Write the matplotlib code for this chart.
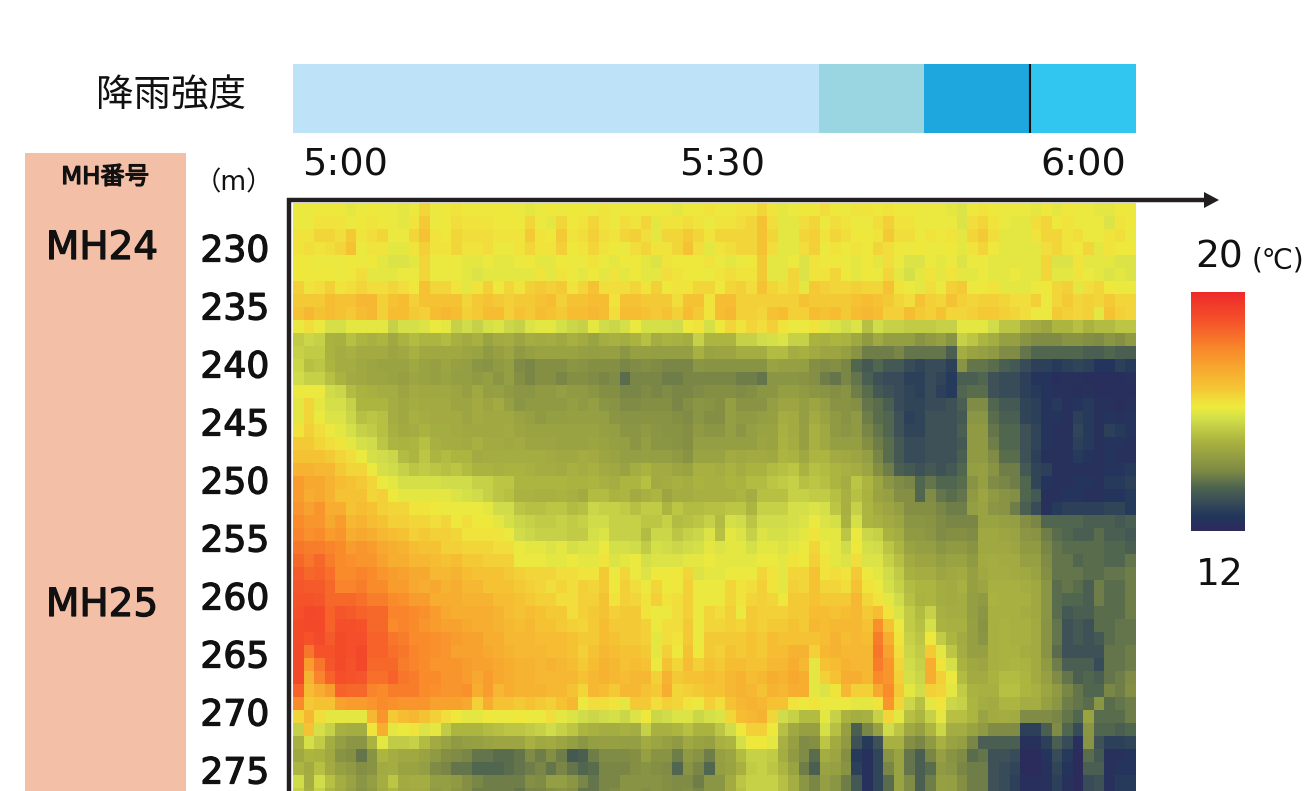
import numpy as np
import matplotlib
matplotlib.use("Agg")
import matplotlib.pyplot as plt
import matplotlib.patheffects as pe
from matplotlib.colors import LinearSegmentedColormap
from matplotlib.patches import Rectangle, Polygon

plt.rcParams['font.family'] = ['DejaVu Sans', 'Noto Sans CJK JP']

# temperature, tenths of a degree, 46 depth rows x 80 time columns
temp = [
[161,161,162,162,162,160,161,162,161,161,160,161,165,161,162,163,162,162,162,162,162,161,160,161,162,161,162,162,161,163,161,162,162,162,162,161,160,162,162,163,162,161,163,163,165,163,160,161,162,162,164,162,161,163,163,162,163,162,162,161,161,161,160,159,162,163,162,161,161,161,160,162,160,162,161,161,160,160,162,161],
[161,161,163,163,163,161,162,163,162,161,160,163,167,161,162,164,163,163,163,162,162,162,165,161,160,165,162,163,165,163,161,164,163,165,160,163,163,164,163,161,163,163,164,165,168,164,160,160,164,165,161,164,163,161,161,164,166,163,163,161,161,161,161,159,164,165,163,161,160,160,164,165,162,163,161,161,161,159,163,162],
[163,163,165,165,164,167,163,164,165,161,161,165,168,163,162,165,164,164,164,163,163,163,167,163,162,167,163,164,166,164,163,165,166,164,160,165,165,167,165,163,165,165,165,165,168,165,160,160,165,166,163,165,164,162,162,163,167,164,164,161,163,162,163,160,165,167,164,160,160,160,163,165,165,163,164,161,161,163,164,161],
[163,164,163,164,165,168,161,163,163,160,160,163,166,163,163,165,163,163,164,161,161,163,165,163,163,166,162,163,165,163,162,161,164,165,163,163,165,168,164,160,163,164,165,165,168,164,160,160,164,166,161,163,162,163,162,165,164,162,161,162,161,161,162,160,163,165,162,160,160,160,160,164,165,163,162,165,160,163,162,162],
[162,162,161,161,161,162,161,162,160,159,159,160,165,161,161,161,160,160,161,160,160,161,162,160,160,162,161,161,163,161,160,162,162,160,159,163,162,162,162,163,161,160,161,162,167,160,160,161,159,163,162,162,161,160,162,160,164,161,159,159,161,160,161,159,161,161,160,160,160,160,160,165,159,159,163,160,160,160,159,159],
[162,162,162,162,161,162,164,160,160,160,161,161,165,161,161,161,160,159,160,160,160,160,160,163,160,163,161,160,162,160,163,160,162,160,160,164,163,162,162,161,163,164,163,163,167,160,160,165,159,163,163,165,162,160,162,161,165,160,158,160,163,160,163,160,160,161,160,160,161,160,160,165,160,160,163,161,160,159,160,159],
[166,163,164,166,163,164,165,164,164,165,164,162,168,165,165,163,160,163,166,162,165,163,166,167,166,167,163,165,168,164,164,164,165,163,166,162,163,163,165,165,162,165,166,164,168,165,164,165,160,167,166,165,165,166,165,165,168,163,161,160,164,161,166,167,161,162,163,160,160,160,161,162,165,166,160,164,165,162,161,161],
[167,167,167,169,168,168,170,170,166,168,169,166,168,168,168,168,165,167,168,167,166,167,167,168,169,166,168,168,169,169,163,168,168,167,167,167,164,168,168,163,169,169,166,166,166,166,166,166,168,167,167,167,167,168,169,168,167,165,164,168,166,165,168,166,165,166,166,165,164,164,166,161,165,167,165,166,165,167,165,165],
[168,170,168,169,168,167,169,170,166,169,169,167,166,169,170,169,166,167,169,169,166,168,167,169,168,167,169,169,170,169,164,169,169,168,167,168,166,169,167,163,169,170,166,166,165,168,169,166,166,169,168,169,167,169,170,169,166,166,169,167,166,168,165,165,166,167,167,166,165,164,161,161,167,166,165,166,160,168,166,165],
[161,164,161,158,158,160,160,160,160,155,158,158,159,161,160,155,157,155,158,159,156,155,159,160,160,158,156,155,160,157,156,158,161,158,158,158,157,162,163,158,162,165,163,165,164,166,163,161,161,163,160,159,157,159,152,157,155,155,154,154,154,155,155,160,160,160,157,153,153,148,146,144,150,150,152,149,151,151,153,153],
[154,156,155,149,148,152,150,148,150,145,149,151,150,150,151,148,146,148,143,146,147,144,147,146,147,145,148,146,143,147,148,147,149,152,147,149,148,147,155,150,150,150,155,155,157,158,159,155,155,149,148,150,149,145,140,145,141,141,141,138,140,142,138,155,153,150,147,142,142,138,136,136,136,138,138,137,136,139,137,140],
[155,154,154,149,147,148,146,146,146,144,145,148,145,145,145,145,144,143,140,142,144,140,142,143,143,143,143,142,141,142,142,139,142,142,141,141,141,141,148,143,144,144,147,147,147,151,151,147,148,146,144,144,142,138,134,134,134,135,133,133,133,133,130,147,143,142,140,136,136,133,131,131,131,131,131,130,130,131,130,130],
[156,152,153,150,147,147,145,144,143,143,143,145,143,142,144,142,141,139,138,140,141,136,135,137,137,137,139,138,137,137,137,135,136,137,136,135,135,135,139,138,138,138,138,138,138,143,142,142,141,137,136,137,135,131,129,131,129,129,127,126,127,127,125,138,133,133,132,130,129,127,125,125,124,125,126,125,123,123,125,124],
[157,155,155,152,149,146,145,144,144,143,142,144,143,142,143,141,141,140,141,139,141,137,135,137,137,135,137,137,136,135,136,132,135,135,135,134,134,135,135,135,135,135,134,134,133,139,139,139,138,137,134,133,135,133,130,128,127,127,125,125,127,126,124,130,130,131,128,127,127,125,123,123,121,122,122,121,121,121,121,122,120],
[161,161,161,157,156,151,149,148,147,147,144,146,145,145,145,144,142,145,141,142,140,139,139,140,140,141,140,140,139,137,137,135,135,136,135,136,135,135,136,137,137,137,136,137,139,139,141,141,140,139,138,137,138,134,132,129,128,127,126,125,127,125,124,131,132,132,128,127,127,125,124,123,122,122,121,122,121,121,121,121,121],
[160,165,160,158,158,155,150,150,150,147,145,147,146,146,146,144,144,146,144,146,142,139,140,140,140,140,141,140,141,139,138,136,136,137,137,137,135,137,139,138,137,141,138,138,138,141,144,144,141,144,141,138,138,137,133,132,130,127,126,126,127,127,128,130,136,136,131,129,129,126,125,123,124,122,123,124,122,122,121,122,122],
[160,165,161,159,159,156,152,153,152,147,145,148,147,146,146,146,144,146,145,145,145,143,142,140,141,141,142,142,142,141,139,138,138,138,138,138,137,136,139,137,137,141,140,140,141,142,147,146,141,146,143,140,138,140,134,132,131,128,125,126,128,128,128,129,139,139,132,130,130,126,125,123,123,122,125,124,122,123,122,123,123],
[163,166,164,161,160,158,155,154,152,148,146,147,149,147,147,146,145,145,145,145,146,144,143,143,143,143,143,143,143,142,141,139,139,140,139,138,138,137,140,139,139,141,139,141,143,143,148,146,142,148,145,140,139,140,135,133,131,128,126,126,128,128,128,130,140,140,133,131,131,128,126,123,122,122,126,124,122,125,124,123,123],
[167,167,165,164,163,160,158,157,153,150,149,150,152,148,147,147,146,148,146,146,145,146,144,144,144,143,143,143,144,143,142,141,139,141,139,139,138,137,141,141,141,141,141,141,144,143,149,147,142,148,145,141,141,141,137,134,132,129,127,127,128,128,128,129,140,140,134,131,131,128,126,123,122,122,125,124,122,123,123,122,122],
[168,168,168,167,165,164,161,158,157,156,151,150,153,150,151,150,150,146,147,147,147,147,147,147,146,145,145,147,146,144,143,141,141,142,141,141,140,138,143,143,143,146,145,146,146,145,150,149,145,150,150,146,145,144,141,135,132,129,127,127,128,128,128,130,140,140,136,132,132,128,125,122,122,122,124,123,122,123,122,122,122],
[171,171,170,170,167,165,165,161,158,157,155,153,154,153,152,153,151,149,149,148,149,149,148,147,147,146,148,147,148,146,145,143,147,149,146,146,144,143,148,148,147,149,147,149,149,151,152,153,149,152,151,150,148,147,144,137,134,130,129,128,129,128,129,131,141,142,138,134,134,129,126,125,122,122,122,122,122,123,123,124,124],
[175,173,173,171,169,168,167,165,161,160,158,158,158,158,157,157,157,155,155,153,153,150,150,150,150,150,149,149,150,148,147,150,150,152,146,147,148,147,149,148,148,150,149,151,151,153,154,155,152,153,152,150,147,153,150,144,139,136,135,131,133,131,131,132,138,142,136,135,134,131,126,123,122,122,123,123,122,124,124,125,125],
[175,172,173,171,168,168,168,165,166,162,160,160,160,160,160,159,158,157,155,153,152,149,149,148,148,149,148,146,151,151,149,150,146,148,150,144,147,147,148,148,148,148,150,147,152,152,152,155,155,154,154,152,148,152,149,143,142,137,137,131,136,133,132,133,140,144,140,138,137,131,129,122,122,123,123,122,122,123,123,124,124],
[176,174,176,172,172,168,169,168,166,165,165,163,163,162,161,161,161,161,160,157,157,153,152,152,153,153,151,152,156,155,155,154,152,154,154,150,153,151,151,152,152,153,153,150,155,155,155,158,158,159,158,153,148,155,150,146,144,141,137,137,137,135,134,134,141,143,139,138,134,130,127,122,124,125,125,125,125,126,126,124,126],
[178,176,176,173,175,170,171,169,168,166,166,165,165,164,165,162,164,162,162,160,158,156,155,154,154,155,154,155,157,157,155,155,155,153,153,155,151,152,153,155,151,158,157,153,157,157,157,158,159,161,159,158,149,158,150,148,146,144,139,139,138,136,135,135,135,143,143,142,141,137,135,131,131,131,131,130,130,130,129,130,130],
[179,177,178,175,176,172,173,172,170,169,168,166,167,166,166,165,163,163,163,163,161,157,156,155,155,155,154,154,158,159,155,155,155,151,156,156,153,155,156,159,152,160,159,155,159,158,158,159,160,163,160,160,153,161,156,155,149,147,140,140,139,136,137,137,136,145,145,144,143,139,138,134,132,131,130,130,132,130,130,129,130],
[181,180,180,179,178,175,176,175,173,172,171,169,168,168,166,166,165,165,165,164,164,161,160,160,159,160,158,159,159,161,158,158,157,154,158,157,156,157,158,160,159,160,160,158,160,160,159,160,161,165,161,160,157,162,158,157,153,150,143,141,141,139,140,140,138,145,145,145,144,140,140,135,133,132,132,132,132,131,131,130,130],
[183,181,183,180,178,177,176,176,174,172,172,170,170,169,168,169,167,167,166,166,166,161,161,161,160,160,161,160,160,163,159,160,161,158,159,159,159,160,160,161,160,160,160,160,161,161,160,163,162,166,163,160,159,164,159,159,155,152,146,144,144,141,143,143,140,146,147,146,146,142,142,136,133,133,131,132,132,131,131,133,133],
[185,183,184,182,178,178,179,178,176,175,174,173,173,170,170,171,169,168,168,168,167,166,165,165,165,164,164,163,163,167,161,165,161,159,162,162,162,165,159,160,160,161,161,161,165,163,160,165,165,168,163,164,163,167,161,160,157,154,148,147,147,144,145,146,142,145,147,147,146,145,143,137,133,133,133,132,132,133,133,134,134],
[186,185,185,183,179,179,180,178,178,175,175,173,172,173,171,172,170,170,168,168,168,167,166,165,164,165,164,166,165,167,162,166,164,161,165,162,162,166,161,161,161,165,163,164,166,163,160,166,165,168,165,165,164,168,163,161,158,155,151,150,150,147,146,148,142,144,148,148,148,147,145,139,132,133,132,130,134,132,132,134,134],
[187,187,186,183,183,183,182,180,180,178,177,175,175,172,172,172,171,171,171,169,169,168,167,166,166,164,164,166,166,168,163,166,165,163,166,163,164,166,161,161,161,165,163,165,166,165,162,167,167,168,167,167,167,170,165,163,160,157,152,149,150,147,146,147,141,140,149,148,148,148,145,139,132,131,131,130,134,132,132,134,134],
[188,190,189,184,186,185,184,183,183,179,179,178,177,175,173,172,172,172,172,171,169,168,169,168,167,167,164,166,167,168,166,167,167,163,161,161,164,166,161,165,164,166,161,167,166,166,166,167,167,169,169,168,169,170,167,169,163,159,154,151,155,148,147,147,141,139,148,148,148,147,145,139,132,129,130,130,132,132,132,134,134],
[189,190,190,184,188,188,187,183,183,178,179,178,176,175,174,174,173,172,172,171,170,169,170,168,168,167,166,165,167,169,167,167,167,166,161,164,164,167,161,165,165,166,165,167,166,167,167,168,167,170,169,170,170,170,168,177,168,161,154,152,158,149,148,148,142,138,148,149,148,148,146,138,133,128,129,128,132,132,133,133,133],
[189,187,189,185,189,188,188,184,184,181,180,178,178,177,176,175,174,174,172,172,170,170,170,169,169,169,168,167,167,169,168,167,167,166,160,164,163,167,161,167,167,167,167,168,167,169,168,168,168,168,169,171,169,170,169,180,172,163,155,153,162,154,150,146,142,139,148,149,148,148,146,138,133,128,129,128,129,132,133,133,133],
[190,181,187,187,189,188,190,184,184,182,181,179,178,177,176,174,174,174,173,172,171,170,170,170,169,169,168,166,168,170,169,168,168,167,160,166,162,168,162,167,166,168,167,168,167,169,169,171,171,166,170,171,170,170,170,181,174,164,156,154,167,160,153,147,142,142,148,149,149,147,146,138,132,128,128,128,128,133,133,134,134],
[190,175,181,186,189,187,190,183,183,183,180,179,178,176,176,176,175,174,174,173,172,171,171,170,171,170,169,167,169,171,170,168,169,168,161,168,165,169,166,168,167,169,169,168,168,170,170,172,170,160,168,169,171,170,170,180,176,165,157,155,172,163,158,149,145,144,148,149,150,149,146,140,134,130,130,130,127,133,133,134,134],
[190,171,179,184,188,187,186,182,182,184,181,180,178,178,176,176,175,173,175,173,172,171,171,170,170,170,170,168,170,171,170,169,170,170,166,171,167,168,168,169,168,170,171,169,170,172,171,173,172,160,166,168,172,172,170,178,176,166,158,156,172,166,161,151,146,146,149,151,151,150,146,142,136,133,130,131,130,133,134,136,136],
[184,169,172,175,184,183,183,179,178,180,180,180,178,177,176,176,177,172,175,170,172,171,171,171,170,170,168,165,170,169,167,170,170,168,167,172,165,166,167,168,168,170,171,170,168,171,170,172,172,160,159,163,170,166,166,173,178,167,160,157,166,165,160,154,149,148,148,152,152,150,148,144,140,135,133,131,131,135,134,137,135],
[178,167,168,168,174,175,175,176,178,177,176,176,176,174,174,174,173,166,172,168,168,167,168,167,166,168,170,161,164,164,163,160,167,167,164,166,165,163,161,166,164,168,170,171,170,168,168,163,162,163,161,161,161,160,160,163,176,165,156,152,160,163,156,155,150,147,146,150,150,147,147,142,139,134,133,132,139,132,133,134,135],
[165,170,164,160,160,160,160,170,176,167,169,170,168,166,164,162,160,160,162,161,161,162,161,161,164,160,159,157,156,157,158,156,159,162,156,157,159,159,156,158,159,165,169,170,171,165,157,155,151,151,160,155,149,147,148,155,165,160,152,150,155,160,152,152,150,143,146,147,146,136,136,136,135,133,131,143,132,132,132,134,134],
[155,168,158,155,148,147,147,163,172,160,161,163,159,160,154,150,150,150,151,152,153,153,154,155,157,155,153,150,148,147,147,148,147,155,148,148,150,152,149,149,153,157,162,166,166,162,152,145,142,142,158,152,142,130,135,142,157,153,145,142,150,156,147,147,143,140,136,136,136,125,125,130,136,131,127,139,131,131,130,131,131],
[148,158,154,147,141,139,139,149,160,154,154,155,151,146,143,140,141,142,143,144,144,144,148,145,146,144,141,139,141,142,142,141,141,146,144,142,140,145,143,142,148,150,158,162,162,160,148,142,136,137,153,146,140,128,124,128,148,148,137,135,140,148,143,141,135,130,130,130,130,122,122,125,130,127,122,138,128,125,125,126,126],
[145,150,149,145,138,137,133,138,150,147,145,145,143,140,137,136,135,133,133,132,132,133,136,134,137,134,129,130,134,136,136,136,137,142,138,138,134,140,138,134,142,144,151,155,155,154,147,140,136,132,147,144,137,124,122,126,138,143,133,130,135,142,138,136,132,133,128,128,127,120,120,123,127,124,120,132,129,122,122,123,123],
[150,146,152,146,142,140,137,138,146,147,143,143,141,136,135,133,133,131,131,131,132,133,134,135,133,135,133,131,132,135,135,135,137,138,137,136,131,138,135,131,141,143,148,154,155,153,150,143,134,130,143,142,138,125,122,126,135,143,133,130,132,140,139,135,134,134,128,127,126,120,120,122,126,123,120,130,130,122,123,123,123],
[157,147,157,152,147,143,139,141,147,153,146,147,147,141,141,140,137,135,134,134,134,134,137,136,141,141,139,135,133,135,135,138,138,138,138,137,136,136,134,139,139,146,153,155,155,155,152,147,139,135,141,139,134,129,122,126,132,143,136,130,134,142,141,137,134,134,128,127,125,121,121,122,125,122,120,127,128,122,124,124,124],
[155,148,155,150,146,142,138,140,146,150,145,146,146,140,141,139,137,134,134,134,134,133,135,135,137,138,137,133,133,135,136,138,138,137,138,137,136,137,135,139,139,146,152,155,155,155,152,147,139,135,141,139,134,129,122,126,132,143,136,130,134,142,141,137,134,134,128,127,125,121,121,122,125,122,120,127,128,122,124,124,124],
]

depth_ticks = [230, 235, 240, 245, 250, 255, 260, 265, 270, 275]

# rain segments in minutes after 5:00
rain_start = [0, 37.44, 44.91, 52.46]
rain_len = [37.44, 7.47, 7.55, 7.54]
rain_colors = ['#BEE3F8', '#9AD6E2', '#1EA6DE', '#31C6F0']

time_labels = ['5:00', '5:30', '6:00']
time_label_x = [345, 722, 1083]

W, H = 1315, 791
fig = plt.figure(figsize=(W / 100, H / 100), dpi=100)

def px_axes(x0, y0, x1, y1):
    return fig.add_axes([x0 / W, 1 - y1 / H, (x1 - x0) / W, (y1 - y0) / H])

cmap = LinearSegmentedColormap.from_list('temp', [
    (0.00, '#2E2A5C'), (0.06, '#22365C'), (0.125, '#3A4E58'), (0.18, '#4E6450'),
    (0.25, '#7E8A45'), (0.375, '#ABB340'), (0.47, '#D3DF4A'), (0.52, '#EEEB3E'),
    (0.60, '#F5C535'), (0.68, '#F7A92F'), (0.76, '#F98A2B'), (0.875, '#F5552A'),
    (1.00, '#EE2A2A')])

# heat map
temp = [(row + [row[-1]] * 80)[:80] for row in temp]
data = np.array(temp, dtype=float) / 10
# my first readings ran cold in the dark range and mild at the hot end
data = np.interp(data, [12, 12.2, 12.5, 13, 13.5, 14, 14.5, 15, 15.5, 16, 16.5, 17, 17.5, 18, 18.5, 19, 20],
                 [12.1, 12.3, 12.7, 13.35, 13.95, 14.4, 14.75, 15.05, 15.5, 16, 16.5, 17.1, 17.7, 18.3, 18.9, 19.3, 20])
ax = px_axes(293, 203, 1136, 791)
m_per_row = 13 / 11.6
x_edges = np.linspace(0, 60, data.shape[1] + 1)
y_edges = 226.12 + np.arange(data.shape[0] + 1) * m_per_row
ax.pcolormesh(x_edges, y_edges, data, cmap=cmap, vmin=12, vmax=20, linewidth=0)
ax.set_xlim(0, 60)
ax.set_ylim(226.12 + 588 / 11.6, 226.12)
ax.set_xticks([])
ax.set_yticks(depth_ticks)
ax.set_yticklabels(depth_ticks, fontsize=26, color='#111111')
ax.tick_params(axis='y', length=0, pad=17)
medium = [pe.withStroke(linewidth=0.9, foreground='#111111')]
for t in ax.get_yticklabels():
    t.set_path_effects(medium)
for s in ax.spines.values():
    s.set_visible(False)

# rain bar
ax_rain = px_axes(293, 64, 1136, 133)
ax_rain.barh(0, rain_len, left=rain_start, height=1, color=rain_colors, linewidth=0)
ax_rain.axvline(52.46, color='#111111', lw=1.5)
ax_rain.set_xlim(0, 60)
ax_rain.set_ylim(-0.5, 0.5)
ax_rain.axis('off')

# colour scale
ax_cb = px_axes(1191, 292, 1245, 531)
ax_cb.imshow(np.linspace(20, 12, 256).reshape(-1, 1), cmap=cmap, vmin=12, vmax=20, aspect='auto')
ax_cb.axis('off')

# everything else in pixel coordinates
ov = fig.add_axes([0, 0, 1, 1], facecolor='none')
ov.set_xlim(0, W)
ov.set_ylim(H, 0)
ov.axis('off')
ov.add_patch(Rectangle((25, 153), 161, 638, color='#F3BFA6', lw=0))
ov.plot([289, 289], [198, 791], color='#231F20', lw=3.2, solid_capstyle='butt')
ov.plot([287, 1206], [200, 200], color='#231F20', lw=3.2, solid_capstyle='butt')
ov.add_patch(Polygon([[1204, 192], [1219, 200], [1204, 208]], color='#231F20', lw=0))

ink = '#111111'
ov.text(171, 97, '降雨強度', fontsize=27, color=ink, ha='center', va='center')
for lab, x in zip(time_labels, time_label_x):
    ov.text(x, 165, lab, fontsize=27.5, color=ink, ha='center', va='center')
ov.text(105, 177, 'MH番号', fontsize=17.5, color=ink, ha='center', va='center', path_effects=medium)
ov.text(234, 183, '（m）', fontsize=19, color=ink, ha='center', va='center')
ov.text(102, 248, 'MH24', fontsize=28, color=ink, ha='center', va='center', path_effects=medium)
ov.text(102, 605, 'MH25', fontsize=28, color=ink, ha='center', va='center', path_effects=medium)
ov.text(1219, 258, '20', fontsize=27, color=ink, ha='center', va='center')
ov.text(1278, 260, '(℃)', fontsize=20, color=ink, ha='center', va='center')
ov.text(1220, 575, '12', fontsize=27, color=ink, ha='center', va='center')

fig.savefig('out.png', dpi=100)
